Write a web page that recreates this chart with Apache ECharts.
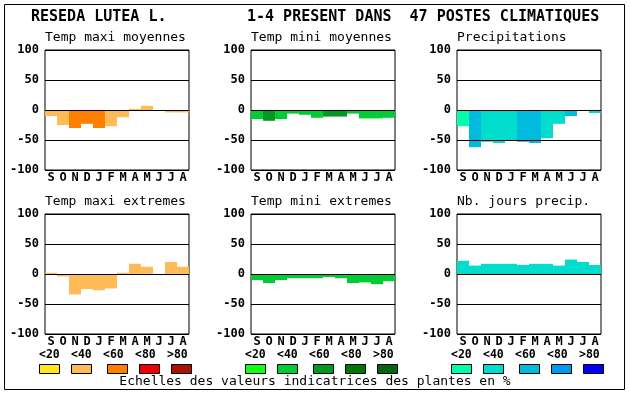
<!DOCTYPE html>
<html><head><meta charset="utf-8">
<script src="https://cdn.jsdelivr.net/npm/echarts@6/dist/echarts.min.js"></script>
<style>html,body{margin:0;padding:0;background:#fff}#c{width:630px;height:394px}</style>
</head><body><div id="c"></div>
<script>
const months = ['S','O','N','D','J','F','M','A','M','J','J','A'];
const yTicks = [-100, -50, 0, 50, 100];
const scaleLabels = ['<20','<40','<60','<80','>80'];

const panelTitles = ['Temp maxi moyennes','Temp mini moyennes','Precipitations','Temp maxi extremes','Temp mini extremes','Nb. jours precip.'];

const tMaxMoy  = [-10,-25,-30,-23,-30,-27,-12,2,7,0,-4,-4];
const tMaxMoyC = [1,1,2,2,2,1,1,1,1,1,1,1];
const tMinMoy  = [-15,-18,-15,-6,-8,-13,-11,-11,-6,-14,-14,-13];
const tMinMoyC = [1,2,1,1,1,1,2,2,1,1,1,1];
const precip   = [-27,-62,-53,-55,-50,-53,-55,-47,-23,-10,0,-5];
const precipC  = [0,2,1,1,1,2,2,1,1,2,1,1];
const tMaxExt  = [2,-4,-34,-25,-27,-24,2,17,12,0,20,12];
const tMaxExtC = [1,1,1,1,1,1,1,1,1,1,1,1];
const tMinExt  = [-10,-15,-10,-7,-7,-7,-5,-7,-15,-14,-17,-12];
const tMinExtC = [1,1,1,1,1,1,1,1,1,1,1,1];
const nbJours  = [22,14,17,17,17,15,17,17,14,24,20,15];
const nbJoursC = [1,1,1,1,1,1,1,1,1,1,1,1];

const palOrange = ['#FFE620','#FFBB55','#FF8000','#EE0000','#AA1100'];
const palGreen  = ['#11FF11','#00CC33','#009922','#007700','#006611'];
const palBlue   = ['#00FFAA','#00DDCC','#00BBDD','#0099EE','#0000FF'];

const panels = [
  {vals:tMaxMoy, cls:tMaxMoyC, pal:palOrange},
  {vals:tMinMoy, cls:tMinMoyC, pal:palGreen},
  {vals:precip,  cls:precipC,  pal:palBlue},
  {vals:tMaxExt, cls:tMaxExtC, pal:palOrange},
  {vals:tMinExt, cls:tMinExtC, pal:palGreen},
  {vals:nbJours, cls:nbJoursC, pal:palBlue}
];

const lefts = [45, 251, 457];
const tops = [50, 214];
const W = 144, H = 120;
const MONO = '"DejaVu Sans Mono", monospace';

const grids = [], xAxes = [], yAxes = [], series = [], graphics = [];
panels.forEach((p, i) => {
  const col = i % 3, row = Math.floor(i / 3);
  grids.push({left: lefts[col], top: tops[row], width: W, height: H, show: true,
    borderColor: '#000', borderWidth: 1, backgroundColor: 'transparent', containLabel: false});
  xAxes.push({type: 'category', gridIndex: i, data: months,
    axisLine: {show: false}, axisTick: {show: false}, splitLine: {show: false},
    axisLabel: {interval: 0, margin: 2, color: '#000', fontFamily: MONO, fontWeight: 'bold', fontSize: 12}});
  yAxes.push({type: 'value', gridIndex: i, min: yTicks[0], max: yTicks[yTicks.length-1], interval: 50,
    axisLine: {show: false}, axisTick: {show: false},
    splitLine: {show: true, lineStyle: {color: '#000', width: 1}},
    axisLabel: {margin: 6, color: '#000', fontFamily: MONO, fontWeight: 'bold', fontSize: 12}});
  series.push({type: 'bar', xAxisIndex: i, yAxisIndex: i, barWidth: '100%', barCategoryGap: 0,
    animation: false,
    data: p.vals.map((v, k) => ({value: v, itemStyle: {color: p.pal[p.cls[k]]}})),
    markLine: {silent: true, symbol: 'none', label: {show: false}, animation: false,
      lineStyle: {color: '#000', type: 'solid', width: 1},
      data: [{yAxis: -50}, {yAxis: 0}, {yAxis: 50}]}
  });
  graphics.push({type: 'text', left: lefts[col], top: tops[row] - 19,
    style: {text: panelTitles[i], font: '13px ' + MONO, fill: '#000'}});
});

// legend scales under bottom row
const pals = [palOrange, palGreen, palBlue];
const labelOff = [0, 32, 64, 96, 128];
const boxOff = [0, 32, 68, 100, 132];
lefts.forEach((L, c) => {
  const x0 = L - 6;
  scaleLabels.forEach((s, k) => {
    graphics.push({type: 'text', left: x0 + labelOff[k], top: 349,
      style: {text: s, font: 'bold 11.5px ' + MONO, fill: '#000'}});
    graphics.push({type: 'rect', shape: {x: x0 + boxOff[k] + 0.5, y: 364.5, width: 20, height: 9},
      style: {fill: pals[c][k], stroke: '#000', lineWidth: 1}});
  });
});

graphics.push({type: 'rect', shape: {x: 4.5, y: 4.5, width: 620, height: 385},
  style: {fill: 'none', stroke: '#000', lineWidth: 1}, z: 100});
graphics.push({type: 'text', left: 31, top: 10,
  style: {text: 'RESEDA LUTEA L.', font: 'bold 15px ' + MONO, fill: '#000'}});
graphics.push({type: 'text', left: 247, top: 10,
  style: {text: '1-4 PRESENT DANS  47 POSTES CLIMATIQUES', font: 'bold 15px ' + MONO, fill: '#000'}});
graphics.push({type: 'text', left: 'center', top: 375,
  style: {text: 'Echelles des valeurs indicatrices des plantes en %', font: '13px ' + MONO, fill: '#000'}});

const chart = echarts.init(document.getElementById('c'), null, {renderer: 'canvas'});
chart.setOption({animation: false, backgroundColor: '#fff', grid: grids, xAxis: xAxes, yAxis: yAxes,
  series: series, graphic: graphics});
</script></body></html>
